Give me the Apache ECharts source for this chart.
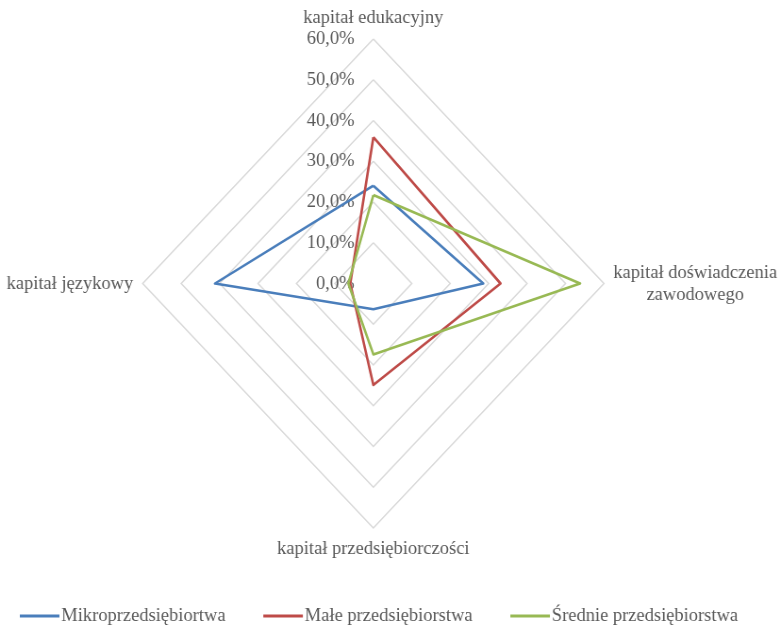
<!DOCTYPE html>
<html>
<head>
<meta charset="utf-8">
<script src="https://cdn.jsdelivr.net/npm/echarts@6/dist/echarts.min.js"></script>
<style>
  html, body { margin: 0; padding: 0; background: #ffffff; overflow: hidden; }
  #wrap { width: 781px; height: 631px; overflow: hidden; }
  /* the figure is drawn slightly wider and then narrowed to its printed proportions */
  #chart { width: 828px; height: 631px; transform: scaleX(0.9432); transform-origin: 0 0; }
</style>
</head>
<body>
<div id="wrap"><div id="chart"></div></div>
<script>
// Radar axes (counter-clockwise from the top)
const indicatorNames = [
  'kapitał edukacyjny',
  'kapitał językowy',
  'kapitał przedsiębiorczości',
  'kapitał doświadczenia\nzawodowego'
];
const axisMax = 60;
const axisStep = 10;

const seriesNames = ['Mikroprzedsiębiortwa', 'Małe przedsiębiorstwa', 'Średnie przedsiębiorstwa'];
const mikroValues = [24.0, 41.2, 6.3, 28.6];
const maleValues = [35.9, 6.0, 24.9, 33.1];
const srednieValues = [21.7, 6.5, 17.4, 53.8];

const colors = ['#4a7ebb', '#be4b48', '#98b954'];
const textColor = '#595959';
const fontFamily = '"Liberation Serif", "Times New Roman", serif';
const fontSize = 19.6;

const fmtPct = v => v.toFixed(1).replace('.', ',') + '%';

const indicators = indicatorNames.map((name, i) => {
  const ind = { name: name, max: axisMax, min: 0 };
  if (i === 0) {
    ind.axisLabel = {
      show: true,
      color: textColor,
      fontFamily: fontFamily,
      fontSize: fontSize,
      margin: 20,
      formatter: fmtPct
    };
  }
  return ind;
});

const chart = echarts.init(document.getElementById('chart'), null, { renderer: 'canvas' });

chart.setOption({
  animation: false,
  color: colors,
  legend: {
    data: seriesNames,
    left: 16,
    top: 601,
    icon: 'rect',
    itemWidth: 42,
    itemHeight: 3,
    itemGap: 40,
    textStyle: { color: textColor, fontFamily: fontFamily, fontSize: fontSize, padding: [0, 0, 0, -3] }
  },
  radar: {
    center: [395.8, 283.5],
    radius: 244.5,
    startAngle: 90,
    shape: 'polygon',
    splitNumber: axisMax / axisStep,
    indicator: indicators,
    nameGap: 10,
    axisName: {
      color: textColor,
      fontFamily: fontFamily,
      fontSize: fontSize,
      formatter: function (name) {
        return name.split('\n').map(s => '{c|' + s + '}').join('\n');
      },
      rich: {
        c: {
          align: 'center',
          color: textColor,
          fontFamily: fontFamily,
          fontSize: fontSize,
          lineHeight: 22
        }
      }
    },
    axisLine: { show: false },
    axisTick: { show: false },
    axisLabel: { show: false },
    splitArea: { show: false },
    splitLine: { lineStyle: { color: '#d9d9d9', width: 1.5 } }
  },
  series: [{
    type: 'radar',
    symbol: 'none',
    lineStyle: { width: 2.6 },
    data: [
      { name: seriesNames[0], value: mikroValues, lineStyle: { color: colors[0] }, itemStyle: { color: colors[0] } },
      { name: seriesNames[1], value: maleValues, lineStyle: { color: colors[1] }, itemStyle: { color: colors[1] } },
      { name: seriesNames[2], value: srednieValues, lineStyle: { color: colors[2] }, itemStyle: { color: colors[2] } }
    ]
  }]
});
</script>
</body>
</html>
